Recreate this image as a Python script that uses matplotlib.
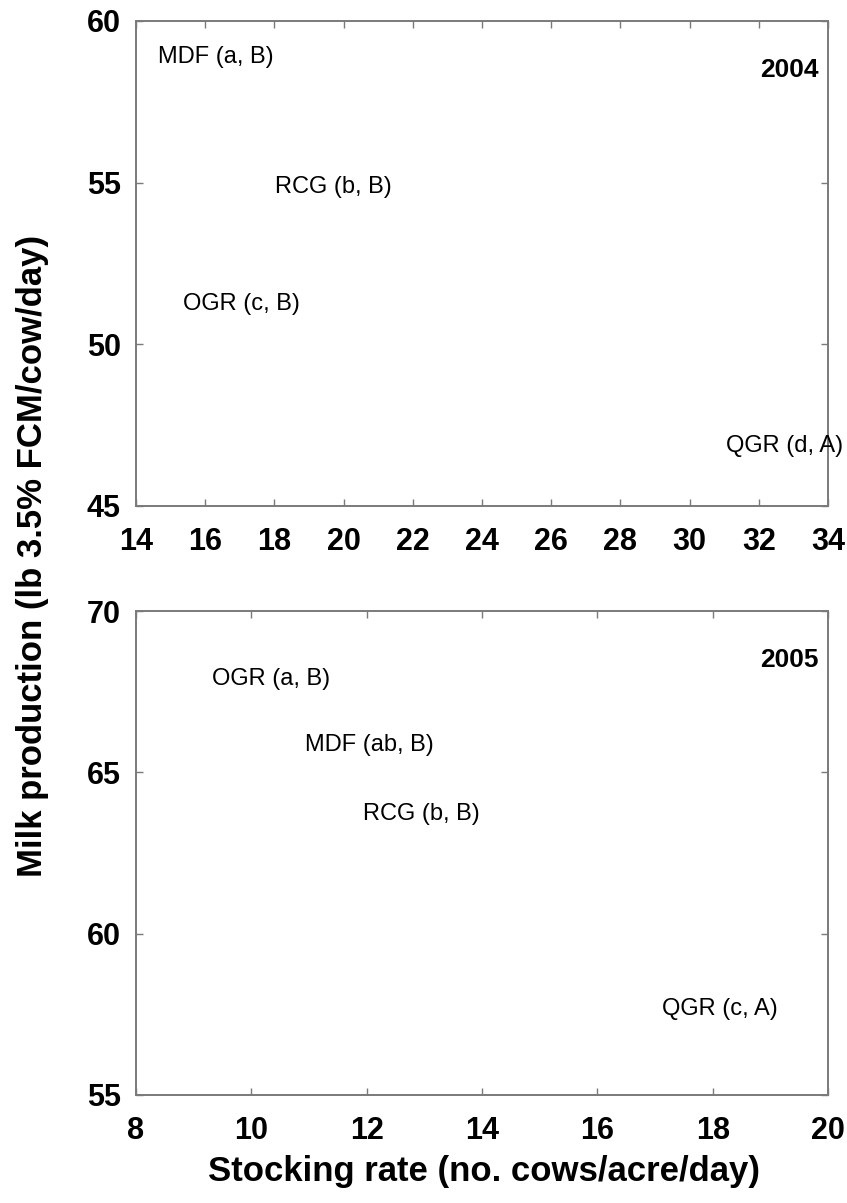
import matplotlib.pyplot as plt

plt.rcParams['font.family'] = ['Liberation Sans', 'DejaVu Sans']

# 2004 data (stocking rate, milk production)
labels_2004 = ["MDF (a, B)", "RCG (b, B)", "OGR (c, B)", "QGR (d, A)"]
x_2004 = [16.3, 19.7, 17.05, 32.75]
y_2004 = [58.88, 54.85, 51.25, 46.87]

# 2005 data
labels_2005 = ["OGR (a, B)", "MDF (ab, B)", "RCG (b, B)", "QGR (c, A)"]
x_2005 = [10.35, 12.05, 12.95, 18.13]
y_2005 = [67.9, 65.85, 63.7, 57.67]

xticks_2004 = [14, 16, 18, 20, 22, 24, 26, 28, 30, 32, 34]
yticks_2004 = [45, 50, 55, 60]
xticks_2005 = [8, 10, 12, 14, 16, 18, 20]
yticks_2005 = [55, 60, 65, 70]

fig = plt.figure(figsize=(8.47, 12.03), dpi=100)
ax1 = fig.add_axes([0.1606, 0.5794, 0.817, 0.4032])
ax2 = fig.add_axes([0.1606, 0.0898, 0.817, 0.4023])


def setup(ax, xt, yt, year):
    ax.set_xlim(xt[0], xt[-1])
    ax.set_ylim(yt[0], yt[-1])
    ax.set_xticks(xt)
    ax.set_yticks(yt)
    for s in ax.spines.values():
        s.set_color("#7a7a7a")
        s.set_linewidth(1.4)
    ax.tick_params(direction="in", top=True, right=True, length=5,
                   width=1, color="#7a7a7a", labelsize=22)
    ax.tick_params(axis="x", pad=15)
    ax.tick_params(axis="y", pad=11)
    for lab in ax.get_xticklabels() + ax.get_yticklabels():
        lab.set_fontweight("bold")
    ax.text(0.986, 0.899, year, transform=ax.transAxes, ha="right",
            va="center", fontsize=19, fontweight="bold")


setup(ax1, xticks_2004, yticks_2004, "2004")
setup(ax2, xticks_2005, yticks_2005, "2005")

for lab, x, y in zip(labels_2004, x_2004, y_2004):
    ax1.text(x, y, lab, ha="center", va="center", fontsize=17, clip_on=False)
for lab, x, y in zip(labels_2005, x_2005, y_2005):
    ax2.text(x, y, lab, ha="center", va="center", fontsize=17, clip_on=False)

fig.text(0.038, 0.538, "Milk production (lb 3.5% FCM/cow/day)", rotation=90,
         ha="center", va="center", fontsize=25, fontweight="bold")
fig.text(0.571, 0.026, "Stocking rate (no. cows/acre/day)",
         ha="center", va="center", fontsize=25, fontweight="bold")

fig.savefig("out.png", dpi=100)
